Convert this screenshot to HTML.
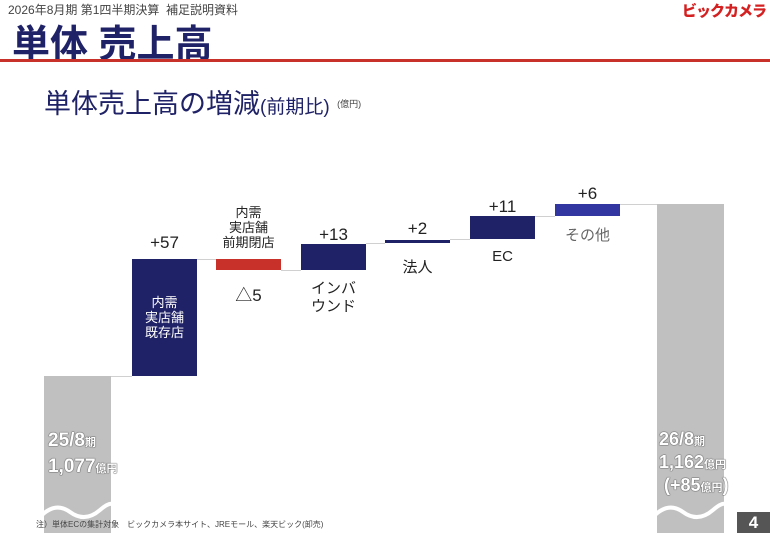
<!DOCTYPE html>
<html><head><meta charset="utf-8"><style>
body{margin:0;width:770px;height:533px;overflow:hidden;background:#fff;position:relative;font-family:"Liberation Sans","Noto Sans CJK JP",sans-serif;}
div{position:absolute;}
.t{white-space:nowrap;color:#222;text-align:center;}
.g{background:#c0c0c0;}
.n{background:#1f2266;}
.ln{height:1px;background:#d0d0d0;}
.w{color:#fff;font-weight:bold;text-shadow:0 0 1px #555,0 0 1px #555,0 0 1px #555;text-align:left;white-space:nowrap;}
</style></head><body>
<div class="t" style="left:8px;top:1px;font-size:12px;color:#444;">2026年8月期 第1四半期決算&nbsp; 補足説明資料</div>
<div class="t" style="right:4px;top:0px;font-size:15px;font-weight:900;color:#d42020;letter-spacing:-1px;">ビックカメラ</div>
<div class="t" style="left:12px;top:13px;font-size:38px;font-weight:bold;color:#1f2266;">単体 売上高</div>
<div style="left:0;top:59px;width:770px;height:3px;background:#c8302a;"></div>
<div class="t" style="left:44px;top:82px;font-size:27px;color:#1f2266;">単体売上高の増減<span style="font-size:19px">(前期比)</span> <span style="font-size:9px;color:#444;vertical-align:6px">(億円)</span></div>

<div class="g" style="left:44px;top:376px;width:67px;height:157px;"></div>
<div class="g" style="left:657px;top:204px;width:67px;height:329px;"></div>
<svg style="position:absolute;left:0;top:495px" width="770" height="38"><path d="M40 22 Q55 6 70 17 T100 15 T116 16" stroke="#fff" stroke-width="4" fill="none"/><path d="M653 22 Q668 6 683 17 T713 15 T728 16" stroke="#fff" stroke-width="4" fill="none"/></svg>

<div class="ln" style="left:111px;top:376px;width:21px;"></div>
<div class="ln" style="left:197px;top:259px;width:19px;"></div>
<div class="ln" style="left:281px;top:270px;width:20px;"></div>
<div class="ln" style="left:366px;top:243px;width:19px;"></div>
<div class="ln" style="left:450px;top:239px;width:20px;"></div>
<div class="ln" style="left:535px;top:216px;width:20px;"></div>
<div class="ln" style="left:620px;top:204px;width:37px;"></div>

<div class="n" style="left:132px;top:259px;width:65px;height:117px;"></div>
<div style="left:216px;top:259px;width:65px;height:11px;background:#c8302a;"></div>
<div class="n" style="left:301px;top:244px;width:65px;height:26px;"></div>
<div class="n" style="left:385px;top:240px;width:65px;height:3px;"></div>
<div class="n" style="left:470px;top:216px;width:65px;height:23px;"></div>
<div style="left:555px;top:204px;width:65px;height:12px;background:#3236a0;"></div>

<div class="t" style="left:132px;width:65px;top:233px;font-size:17px;">+57</div>
<div class="t" style="left:132px;width:65px;top:295px;font-size:13px;color:#fff;line-height:15px;">内需<br>実店舗<br>既存店</div>
<div class="t" style="left:206px;width:85px;top:205px;font-size:13px;line-height:15px;">内需<br>実店舗<br>前期閉店</div>
<div class="t" style="left:216px;width:65px;top:281px;font-size:17px;">△5</div>
<div class="t" style="left:301px;width:65px;top:225px;font-size:17px;">+13</div>
<div class="t" style="left:301px;width:65px;top:280px;font-size:15px;line-height:18px;">インバ<br>ウンド</div>
<div class="t" style="left:385px;width:65px;top:219px;font-size:17px;">+2</div>
<div class="t" style="left:385px;width:65px;top:256px;font-size:15px;">法人</div>
<div class="t" style="left:470px;width:65px;top:197px;font-size:17px;">+11</div>
<div class="t" style="left:470px;width:65px;top:248px;font-size:15px;">EC</div>
<div class="t" style="left:555px;width:65px;top:184px;font-size:17px;">+6</div>
<div class="t" style="left:555px;width:65px;top:224px;font-size:15px;color:#666;">その他</div>

<div class="w" style="left:48px;top:429px;font-size:19px;line-height:24px;">25/8<span style="font-size:11px">期</span><br>1,077<span style="font-size:11px">億円</span></div>
<div class="w" style="left:659px;top:429px;font-size:18px;line-height:20px;">26/8<span style="font-size:11px">期</span><br>1,162<span style="font-size:11px">億円</span><br>&nbsp;(+85<span style="font-size:11px">億円</span>)</div>

<div class="t" style="left:36px;top:519px;font-size:8px;color:#444;">注）単体ECの集計対象　ビックカメラ本サイト、JREモール、楽天ビック(卸売)</div>
<div style="left:737px;top:512px;width:33px;height:21px;background:#555;color:#fff;font-size:17px;text-align:center;line-height:21px;font-weight:bold;">4</div>
</body></html>
